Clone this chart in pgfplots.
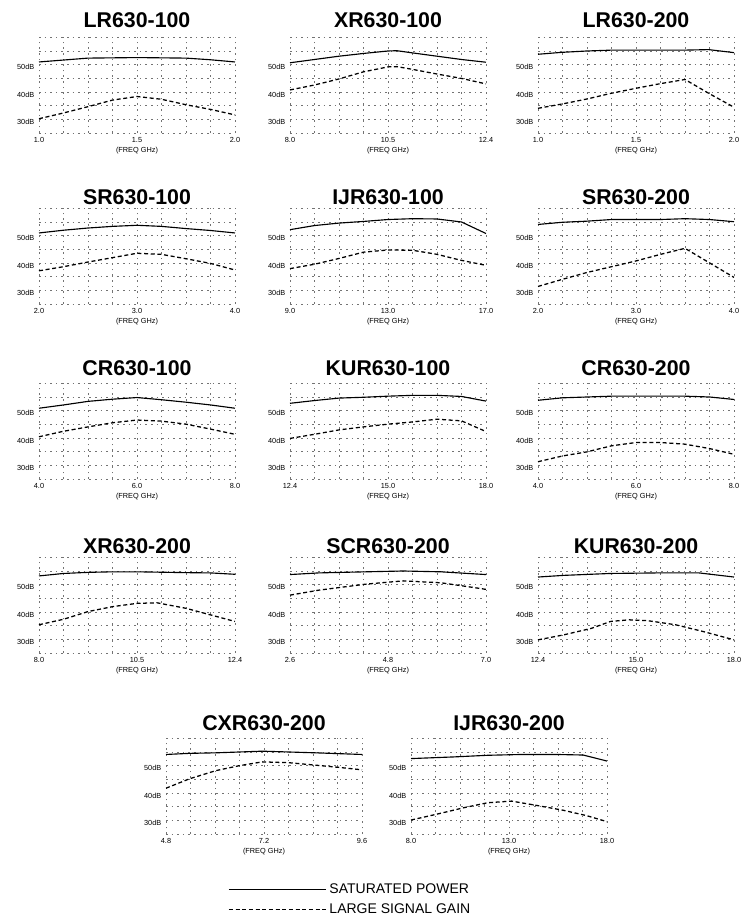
\documentclass[border=0pt]{standalone}
\usepackage{fontspec}
\setmainfont{Liberation Sans}
\usepackage{pgfplots}
\pgfplotsset{compat=1.18}
\pgfplotsset{
  panel/.style={
    scale only axis, width=147pt, height=72pt, anchor=north west,
    ymin=25, ymax=60, ytick={25,30,...,60},
    yticklabels={,30dB,,40dB,,50dB,,},
    grid=major,
    major grid style={black!55, line width=0.3pt, dash pattern=on 1.2pt off 3pt},
    axis line style={draw=none}, tick style={draw=none},
    tick label style={font=\fontsize{5.5}{6}\selectfont},
    yticklabel style={yshift=-2pt},
    /pgf/number format/assume math mode=true,
    xlabel={(FREQ GHz)},
    xlabel style={font=\fontsize{5.5}{6}\selectfont, yshift=4pt},
    title style={font=\bfseries\fontsize{16}{16}\selectfont, at={(0.5,1)}, anchor=base},
    clip=false,
  },
  sat/.style={black, line width=0.85pt},
  gain/.style={black, line width=0.95pt, dash pattern=on 3pt off 2pt},
}
\begin{document}
\begin{tikzpicture}
\path[use as bounding box] (0,0) rectangle (555pt,-687pt);
% ---------- Row 1
\begin{axis}[panel, at={(29.25pt,-27.75pt)}, title={LR630-100}, title style={yshift=1pt},
  xmin=1, xmax=2, xtick={1,1.125,1.25,1.375,1.5,1.625,1.75,1.875,2},
  xticklabels={1.0,,,,1.5,,,,2.0}]
\addplot[sat] coordinates {(1.0,50.9) (1.125,51.6) (1.25,52.3) (1.5,52.5) (1.75,52.3) (1.875,51.7) (2.0,50.9)};
\addplot[gain] coordinates {(1.0,30.2) (1.125,32.3) (1.25,34.6) (1.375,37.0) (1.5,38.3) (1.625,37.3) (1.75,35.3) (1.875,33.6) (2.0,31.6)};
\end{axis}
\begin{axis}[panel, at={(217.5pt,-27.75pt)}, title={XR630-100}, title style={yshift=1pt},
  xmin=8, xmax=12.4, xtick={8,8.55,9.1,9.65,10.2,10.75,11.3,11.85,12.4},
  xticklabels={8.0,,,,10.5,,,,12.4}]
\addplot[sat] coordinates {(8.0,50.6) (8.55,51.8) (9.1,53.0) (9.65,54.0) (10.2,54.9) (10.4,55.0) (10.75,54.2) (11.3,53.0) (11.85,51.8) (12.4,50.8)};
\addplot[gain] coordinates {(8.0,40.7) (8.55,42.5) (9.1,44.7) (9.65,47.3) (10.2,49.1) (10.4,49.2) (10.75,48.2) (11.3,46.5) (11.85,44.9) (12.4,42.9)};
\end{axis}
\begin{axis}[panel, at={(403.5pt,-27.75pt)}, title={LR630-200}, title style={yshift=1pt},
  xmin=1, xmax=2, xtick={1,1.125,1.25,1.375,1.5,1.625,1.75,1.875,2},
  xticklabels={1.0,,,,1.5,,,,2.0}]
\addplot[sat] coordinates {(1.0,53.7) (1.12,54.4) (1.25,54.9) (1.37,55.2) (1.5,55.2) (1.74,55.2) (1.87,55.4) (2.0,54.3)};
\addplot[gain] coordinates {(1.0,34.0) (1.125,35.6) (1.25,37.4) (1.375,39.5) (1.5,41.3) (1.625,43.0) (1.75,44.5) (1.875,39.3) (2.0,34.4)};
\end{axis}
% ---------- Row 2
\begin{axis}[panel, at={(29.25pt,-156pt)}, title={SR630-100}, title style={yshift=-3.5pt},
  xmin=2, xmax=4, xtick={2,2.25,2.5,2.75,3,3.25,3.5,3.75,4},
  xticklabels={2.0,,,,3.0,,,,4.0}]
\addplot[sat] coordinates {(2.0,50.9) (2.25,51.9) (2.5,52.7) (2.75,53.3) (3.0,53.7) (3.25,53.3) (3.5,52.5) (3.75,51.8) (4.0,50.9)};
\addplot[gain] coordinates {(2.0,37.1) (2.25,38.6) (2.5,40.3) (2.75,41.9) (3.0,43.5) (3.25,43.1) (3.5,41.5) (3.75,39.8) (4.0,37.4)};
\end{axis}
\begin{axis}[panel, at={(217.5pt,-156pt)}, title={IJR630-100}, title style={yshift=-3.5pt},
  xmin=9, xmax=17, xtick={9,10,...,17},
  xticklabels={9.0,,,,13.0,,,,17.0}]
\addplot[sat] coordinates {(9,52.1) (10,53.6) (11,54.5) (12,55.1) (13,55.8) (14,56.1) (15,56.0) (16,54.9) (17,50.7)};
\addplot[gain] coordinates {(9,37.9) (10,39.5) (11,41.6) (12,43.9) (13,44.7) (14,44.6) (15,43.1) (16,40.9) (17,39.1)};
\end{axis}
\begin{axis}[panel, at={(403.5pt,-156pt)}, title={SR630-200}, title style={yshift=-3.5pt},
  xmin=2, xmax=4, xtick={2,2.25,2.5,2.75,3,3.25,3.5,3.75,4},
  xticklabels={2.0,,,,3.0,,,,4.0}]
\addplot[sat] coordinates {(2.0,54.0) (2.25,54.8) (2.5,55.2) (2.75,55.8) (3.0,55.8) (3.25,55.8) (3.5,56.1) (3.75,55.8) (4.0,55.0)};
\addplot[gain] coordinates {(2.0,31.4) (2.25,34.0) (2.5,36.5) (2.75,38.6) (3.0,40.7) (3.25,43.1) (3.5,45.3) (3.75,40.0) (4.0,34.7)};
\end{axis}
% ---------- Row 3
\begin{axis}[panel, at={(29.25pt,-287.25pt)}, title={CR630-100}, title style={yshift=-0.5pt},
  xmin=4, xmax=8, xtick={4,4.5,...,8},
  xticklabels={4.0,,,,6.0,,,,8.0}]
\addplot[sat] coordinates {(4.0,50.8) (4.5,52.0) (5.0,53.3) (5.5,54.1) (6.0,54.7) (6.5,53.9) (7.0,53.0) (7.5,52.0) (8.0,50.8)};
\addplot[gain] coordinates {(4.0,40.4) (4.5,42.4) (5.0,44.0) (5.5,45.5) (6.0,46.5) (6.5,46.1) (7.0,45.0) (7.5,43.2) (8.0,41.3)};
\end{axis}
\begin{axis}[panel, at={(217.5pt,-287.25pt)}, title={KUR630-100}, title style={yshift=-0.5pt},
  xmin=12.4, xmax=18, xtick={12.4,13.1,13.8,14.5,15.2,15.9,16.6,17.3,18},
  xticklabels={12.4,,,,15.0,,,,18.0}]
\addplot[sat] coordinates {(12.4,52.6) (13.1,53.6) (13.8,54.5) (14.5,54.8) (15.2,55.2) (15.9,55.5) (16.6,55.5) (17.3,55.1) (18.0,53.4)};
\addplot[gain] coordinates {(12.4,39.8) (13.1,41.3) (13.8,42.9) (14.5,44.0) (15.2,45.0) (15.9,45.8) (16.6,46.8) (17.3,46.2) (18.0,42.3)};
\end{axis}
\begin{axis}[panel, at={(403.5pt,-287.25pt)}, title={CR630-200}, title style={yshift=-0.5pt},
  xmin=4, xmax=8, xtick={4,4.5,...,8},
  xticklabels={4.0,,,,6.0,,,,8.0}]
\addplot[sat] coordinates {(4.0,53.7) (4.5,54.6) (5.0,54.9) (5.5,55.2) (6.0,55.2) (6.5,55.2) (7.0,55.2) (7.5,54.9) (8.0,54.0)};
\addplot[gain] coordinates {(4.0,31.3) (4.5,33.4) (5.0,34.9) (5.5,37.1) (6.0,38.3) (6.5,38.3) (7.0,37.7) (7.5,36.1) (8.0,34.0)};
\end{axis}
% ---------- Row 4
\begin{axis}[panel, at={(29.25pt,-417.75pt)}, title={XR630-200}, title style={yshift=-3pt},
  xmin=8, xmax=12.4, xtick={8,8.55,9.1,9.65,10.2,10.75,11.3,11.85,12.4},
  xticklabels={8.0,,,,10.5,,,,12.4}]
\addplot[sat] coordinates {(8.0,53.1) (8.55,54.0) (9.1,54.4) (9.65,54.6) (10.2,54.6) (11.3,54.3) (11.85,54.2) (12.4,53.7)};
\addplot[gain] coordinates {(8.0,35.3) (8.55,37.3) (9.1,40.1) (9.65,41.9) (10.2,43.1) (10.65,43.3) (11.3,41.3) (11.85,38.9) (12.4,36.5)};
\end{axis}
\begin{axis}[panel, at={(217.5pt,-417.75pt)}, title={SCR630-200}, title style={yshift=-3pt},
  xmin=2.6, xmax=7.0, xtick={2.6,3.15,3.7,4.25,4.8,5.35,5.9,6.45,7.0},
  xticklabels={2.6,,,,4.8,,,,7.0}]
\addplot[sat] coordinates {(2.6,53.6) (3.24,54.2) (4.3,54.6) (5.14,54.9) (5.99,54.6) (7.0,53.6)};
\addplot[gain] coordinates {(2.6,46.1) (3.24,47.9) (4.3,50.1) (5.14,51.3) (5.99,50.6) (6.63,49.1) (7.0,48.2)};
\end{axis}
\begin{axis}[panel, at={(403.5pt,-417.75pt)}, title={KUR630-200}, title style={yshift=-3pt},
  xmin=12.4, xmax=18, xtick={12.4,13.1,13.8,14.5,15.2,15.9,16.6,17.3,18},
  xticklabels={12.4,,,,15.0,,,,18.0}]
\addplot[sat] coordinates {(12.4,52.7) (13.13,53.3) (14.47,54.0) (15.8,54.2) (17.0,54.2) (18.0,52.7)};
\addplot[gain] coordinates {(12.4,29.8) (13.13,31.6) (13.93,34.0) (14.47,36.5) (15.0,37.1) (15.53,36.8) (16.33,35.3) (17.13,32.8) (18.0,29.8)};
\end{axis}
% ---------- Row 5
\begin{axis}[panel, at={(124.5pt,-553.5pt)}, title={CXR630-200}, title style={yshift=0pt},
  xmin=4.8, xmax=9.6, xtick={4.8,5.4,6.0,6.6,7.2,7.8,8.4,9.0,9.6},
  xticklabels={4.8,,,,7.2,,,,9.6},
  legend style={at={(0.316,-0.49)}, anchor=north west, draw=none, fill=none,
    inner sep=0pt, row sep=2pt, font=\fontsize{10.5}{11}\selectfont,
    legend cell align=left},
  legend image code/.code={\draw[#1] (0pt,0pt) -- (61.5pt,0pt); \path (0pt,0pt) -- (73pt,0pt);}]
\addplot[sat] coordinates {(4.8,54.0) (5.37,54.4) (6.02,54.6) (7.16,55.2) (7.81,54.9) (8.46,54.6) (9.6,54.0)};
\addlegendentry{SATURATED POWER}
\addplot[gain] coordinates {(4.8,41.7) (5.37,45.1) (6.02,48.1) (6.59,49.9) (7.16,51.3) (7.81,51.0) (8.46,50.1) (9.03,49.3) (9.6,48.4)};
\addlegendentry{LARGE SIGNAL GAIN}
\end{axis}
\begin{axis}[panel, at={(308.25pt,-553.5pt)}, title={IJR630-200}, title style={yshift=0pt},
  xmin=8, xmax=18, xtick={8,9.25,10.5,11.75,13,14.25,15.5,16.75,18},
  xticklabels={8.0,,,,13.0,,,,18.0}]
\addplot[sat] coordinates {(8.0,52.5) (10.17,53.1) (11.91,53.7) (13.65,54.0) (15.39,54.0) (16.78,53.8) (18.0,51.6)};
\addplot[gain] coordinates {(8.0,30.1) (9.3,32.2) (10.7,34.6) (11.91,36.4) (13.13,37.0) (14.35,35.5) (15.74,33.7) (16.96,31.7) (18.0,29.5)};
\end{axis}
\end{tikzpicture}
\end{document}
